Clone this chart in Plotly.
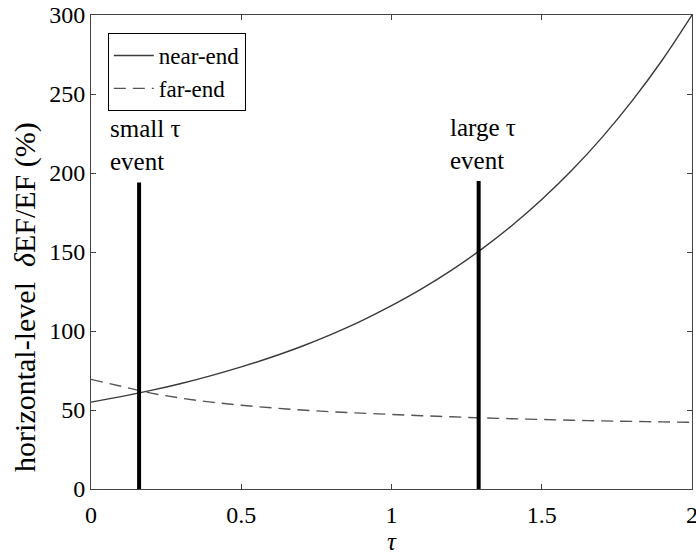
import plotly.graph_objects as go

# Sampled curves: horizontal-level dEF/EF (%) versus tau
tau = [0.0, 0.1, 0.2, 0.3, 0.4, 0.5, 0.6, 0.7, 0.8, 0.9, 1.0,
       1.1, 1.2, 1.3, 1.4, 1.5, 1.6, 1.7, 1.8, 1.9, 2.0]
near_end = [55.0, 58.5, 62.4, 66.8, 71.8, 77.3, 83.4, 90.2, 97.9, 106.4, 116.0,
            126.6, 138.5, 151.8, 166.6, 183.2, 201.7, 222.4, 245.5, 271.2, 300.0]
far_end = [69.4, 65.0, 60.7, 57.5, 55.0, 53.0, 51.4, 50.0, 48.9, 48.0, 47.2,
           46.4, 45.7, 45.0, 44.5, 44.0, 43.5, 43.1, 42.8, 42.5, 42.2]

# Event markers: tau position and bar height
event_tau = [0.16, 1.29]
event_top = [194, 195]
event_text = ["small τ<br>event", "large τ<br>event"]

FONT = "Liberation Serif"

fig = go.Figure()
fig.add_trace(go.Scatter(x=tau, y=near_end, mode="lines", name="near-end",
                         line=dict(color="#3a3a3a", width=1.4, shape="spline")))
fig.add_trace(go.Scatter(x=tau, y=far_end, mode="lines", name="far-end",
                         line=dict(color="#555555", width=1.4, dash="12px,7px",
                                   shape="spline")))

for t, top, txt in zip(event_tau, event_top, event_text):
    fig.add_trace(go.Scatter(x=[t, t], y=[0, top], mode="lines", showlegend=False,
                             line=dict(color="black", width=4), hoverinfo="skip"))
    fig.add_annotation(x=t, y=top, xref="x", yref="y", text=txt, showarrow=False,
                       xanchor="left", yanchor="bottom", align="left", xshift=-31, yshift=5,
                       font=dict(family=FONT, size=25, color="black"))

# Y-axis title, set beside the axis
fig.add_annotation(x=-0.11, y=0.405, xref="paper", yref="paper",
                   text="horizontal-level  <i>δ</i>EF/EF (%)", showarrow=False,
                   textangle=-90, xanchor="center", yanchor="middle",
                   font=dict(family=FONT, size=30, color="black"))

axis_common = dict(showgrid=False, zeroline=False, showline=True, linecolor="#444444",
                   linewidth=1, mirror="allticks", ticks="inside", ticklen=5,
                   tickcolor="#444444", ticklabeloverflow="allow",
                   tickfont=dict(family=FONT, size=24, color="black"))

fig.update_xaxes(range=[0, 2], dtick=0.5, tick0=0, ticklabelstandoff=4,
                 title=dict(text="<i>τ</i>", font=dict(family=FONT, size=25, color="black"),
                            standoff=4),
                 **axis_common)
fig.update_yaxes(range=[0, 300], dtick=50, tick0=0, **axis_common)

fig.update_layout(
    width=696, height=555,
    margin=dict(l=91, r=4, t=15, b=66, autoexpand=False),
    paper_bgcolor="white", plot_bgcolor="white",
    showlegend=True,
    legend=dict(x=0.028, y=0.962, xanchor="left", yanchor="top",
                bgcolor="white", bordercolor="black", borderwidth=1,
                font=dict(family=FONT, size=23, color="black"),
                tracegroupgap=0, itemwidth=40),
)

fig.write_html("out.html")
